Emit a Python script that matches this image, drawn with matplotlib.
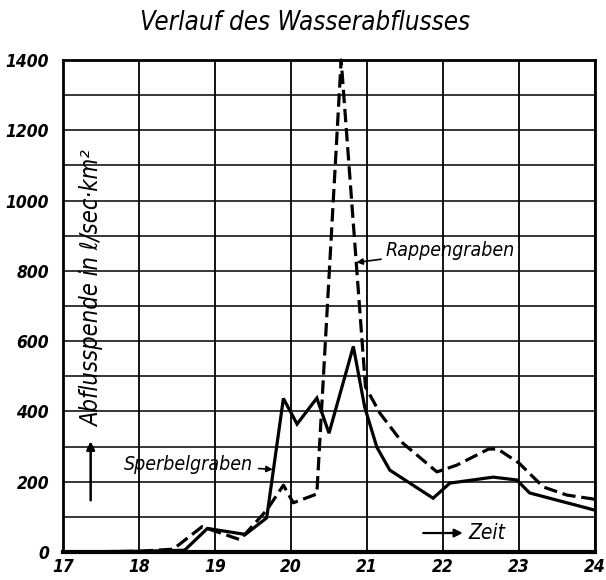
import matplotlib
matplotlib.use("Agg")
import matplotlib.pyplot as plt

# ---- data ----
sperbel_t = [17.0, 18.0, 18.6, 18.9, 19.4, 19.68, 19.9, 20.08, 20.34, 20.5, 20.82,
             20.97, 21.13, 21.3, 21.87, 22.09, 22.66, 22.97, 23.14, 24.0]
sperbel_v = [0, 2, 5, 67, 50, 97, 437, 364, 438, 338, 585,
             412, 298, 233, 153, 196, 213, 205, 168, 119]

rappen_t = [17.0, 18.0, 18.45, 18.83, 19.33, 19.68, 19.9, 20.03, 20.34, 20.66,
            20.98, 21.17, 21.47, 21.92, 22.18, 22.6, 22.72, 23.0, 23.32, 23.63, 24.0]
rappen_v = [0, 2, 8, 72, 35, 119, 190, 140, 165, 1400,
            470, 395, 310, 228, 247, 293, 293, 253, 185, 162, 150]

x_ticks = [17, 18, 19, 20, 21, 22, 23, 24]
y_ticks = [0, 200, 400, 600, 800, 1000, 1200, 1400]
y_grid = list(range(0, 1401, 100))

title = "Verlauf des Wasserabflusses"
ylabel = "Abflusspende in ℓ/sec·km²"

plt.rcParams['font.family'] = ['DejaVu Sans']
plt.rcParams['font.stretch'] = 'condensed'

fig = plt.figure(figsize=(6.06, 5.8), dpi=100)
ax = fig.add_axes([63/606, 1 - 552/580, (595-63)/606, (552-60)/580])

ax.set_xlim(17, 24)
ax.set_ylim(0, 1400)

for yv in y_grid:
    ax.axhline(yv, color='black', lw=1.1, zorder=1)
for xv in x_ticks:
    ax.axvline(xv, color='black', lw=1.3, zorder=1)

ax.plot(sperbel_t, sperbel_v, color='black', lw=2.3, solid_joinstyle='miter', zorder=3)
ax.plot(rappen_t, rappen_v, color='black', lw=2.3, linestyle=(0, (4.2, 1.8)), zorder=3,
        clip_on=False)

for s in ax.spines.values():
    s.set_linewidth(2.0)
ax.spines['bottom'].set_linewidth(3.0)

tick_font = dict(fontsize=12.5, style='italic', fontweight='bold', fontstretch='condensed')
ax.set_xticks(x_ticks)
ax.set_yticks(y_ticks)
ax.set_xticklabels([str(t) for t in x_ticks], **tick_font)
ax.set_yticklabels([str(t) for t in y_ticks], **tick_font)
ax.tick_params(length=0)
ax.tick_params(axis='y', pad=10)
ax.tick_params(axis='x', pad=4)

fig.text(305/606, 1 - 23/580, title, ha='center', va='center', fontsize=18.5,
         style='italic', fontstretch='condensed')

# y-label inside the axes
ax.text(0.054, 0.535, ylabel, transform=ax.transAxes, rotation=90, ha='center', va='center',
        fontsize=17, style='italic', fontstretch='condensed')
ax.annotate("", xy=(0.052, 0.225), xytext=(0.052, 0.105), xycoords='axes fraction',
            arrowprops=dict(arrowstyle='-|>', color='black', lw=1.8, mutation_scale=12,
                            shrinkA=0, shrinkB=0))

# series labels
lab_font = dict(fontsize=14, style='italic', fontstretch='condensed')
ax.annotate("Rappengraben", xy=(20.86, 824), xytext=(21.24, 858), ha='left', va='center',
            arrowprops=dict(arrowstyle='-|>', color='black', lw=1.2, mutation_scale=9,
                            shrinkA=1, shrinkB=0), **lab_font)
ax.annotate("Sperbelgraben", xy=(19.76, 235), xytext=(19.5, 250), ha='right', va='center',
            arrowprops=dict(arrowstyle='-|>', color='black', lw=1.2, mutation_scale=9,
                            shrinkA=2, shrinkB=0), **lab_font)
ax.annotate("", xy=(22.26, 54), xytext=(21.74, 54),
            arrowprops=dict(arrowstyle='-|>', color='black', lw=1.6, mutation_scale=12,
                            shrinkA=0, shrinkB=0))
ax.text(22.33, 54, "Zeit", ha='left', va='center', fontsize=15, style='italic',
        fontstretch='condensed')

fig.savefig("out.png", dpi=100, facecolor='white')
